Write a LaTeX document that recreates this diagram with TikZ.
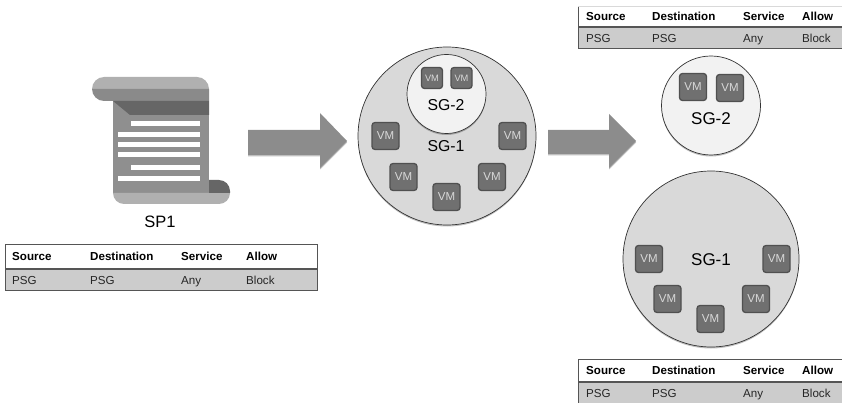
\documentclass[tikz,border=0pt]{standalone}
\usepackage{fontspec}
\setmainfont{Liberation Sans}
\usetikzlibrary{shadows}

\definecolor{sgfill}{HTML}{D9D9D9}
\definecolor{sginner}{HTML}{F2F2F2}
\definecolor{vmfill}{HTML}{707070}
\definecolor{vmedge}{HTML}{505050}
\definecolor{vmtext}{HTML}{D8D8D8}
\definecolor{rowfill}{HTML}{CCCCCC}
\definecolor{rule}{HTML}{555555}
\definecolor{arrowfill}{HTML}{8C8C8C}

\tikzset{
    softshadow/.style={drop shadow={shadow xshift=0pt, shadow yshift=-1.5pt, opacity=0.25, fill=black}},
    sgcircle/.style={circle, draw=black!80, line width=0.7pt, inner sep=0pt, minimum size=#1, softshadow},
    vmbox/.style={rectangle, rounded corners=3pt, draw=vmedge, line width=1.3pt, fill=vmfill, text=vmtext, inner sep=0pt, minimum size=#1},
    sglabel/.style={inner sep=0pt, font=\fontsize{#1}{#1}\selectfont},
    head/.style={anchor=base west, inner sep=0pt, font=\fontsize{11.6}{12}\selectfont\bfseries},
    cell/.style={anchor=base west, inner sep=0pt, text=black!85, font=\fontsize{11.6}{12}\selectfont},
    blockarrow/.style={fill=arrowfill, softshadow},
}
\newcommand{\vmlarge}[3]{\node[vmbox=27pt, font=\fontsize{11.5}{12}\selectfont] (#1) at (#2,#3) {VM};}
\newcommand{\vmsmall}[3]{\node[vmbox=21pt, font=\fontsize{9.3}{10}\selectfont] (#1) at (#2,#3) {VM};}

\begin{document}
\begin{tikzpicture}[x=1pt, y=-1pt]
    \useasboundingbox (0,0) rectangle (842,403);

    % scroll
    \fill[black!44] (113,101) rectangle (209,193);
    \fill[black!31] (113,193) [rounded corners=11pt] -- (113,204) -- (230,204) [sharp corners] -- (230,193) -- cycle;
    \fill[black!31] (92,89) [rounded corners=12pt] -- (92,77) -- (209,77) [sharp corners] -- (209,89) -- cycle;
    \fill[black!46] (92,89) [rounded corners=12pt] -- (92,101) [sharp corners] -- (209,101) -- (209,89) -- cycle;
    \fill[black!60] (113,101) -- (209,101) -- (209,115) -- (130,115) -- cycle;
    \fill[black!60] (209,193) -- (209,180) [rounded corners=11pt] -- (230,180) [sharp corners] -- (230,193) -- cycle;
    \foreach \ytop/\xleft in {121/131, 132/118, 142/118, 152/118, 165/131, 176/118} {
        \fill[white] (\xleft,\ytop) rectangle (200,\ytop+5);
    }
    \node[sglabel=16.5] (sp1) at (160,222) {SP1};

    % rule table under the scroll
    \fill[rowfill] (5,269) rectangle (317,290);
    \draw[rule, line width=1pt] (5,244) rectangle (317,290);
    \draw[rule, line width=1.2pt] (5,269) -- (317,269);
    \node[head] (srcA) at (12,260) {Source};
    \node[head] (dstA) at (90,260) {Destination};
    \node[head] (svcA) at (181,260) {Service};
    \node[head] (allA) at (246,260) {Allow};
    \node[cell] (srcrowA) at (12,284) {PSG};
    \node[cell] (dstrowA) at (90,284) {PSG};
    \node[cell] (svcrowA) at (181,284) {Any};
    \node[cell] (allrowA) at (246,284) {Block};

    % big arrows
    \path[blockarrow] (248,130) -- (320,130) -- (320,113) -- (347,141) -- (320,168) -- (320,155) -- (248,155) -- cycle;
    \path[blockarrow] (548,130) -- (609,130) -- (609,114) -- (636,141) -- (609,168) -- (609,154) -- (548,154) -- cycle;

    % middle group
    \node[sgcircle=178pt, fill=sgfill] (sgone) at (447,136) {};
    \node[sgcircle=79pt, fill=sginner] (sgtwo) at (446.5,94) {};
    \node[sglabel=15.8] (sgtwolabel) at (446,105) {SG-2};
    \node[sglabel=15.8] (sgonelabel) at (446,146) {SG-1};
    \vmsmall{vma}{432}{78}
    \vmsmall{vmb}{461.5}{78}
    \vmlarge{vmc}{385.5}{136}
    \vmlarge{vmd}{512.5}{136}
    \vmlarge{vme}{403.5}{177}
    \vmlarge{vmf}{492}{177}
    \vmlarge{vmg}{446.5}{197}

    % right groups
    \node[sgcircle=99pt, fill=sginner] (sgtwor) at (711,105.5) {};
    \node[sglabel=17] (sgtworlabel) at (711,119) {SG-2};
    \vmlarge{vmh}{693}{87}
    \vmlarge{vmi}{730}{88}
    \node[sgcircle=176pt, fill=sgfill] (sgoner) at (711,259) {};
    \node[sglabel=17] (sgonerlabel) at (711,260) {SG-1};
    \vmlarge{vmj}{649}{259}
    \vmlarge{vmk}{776.5}{259}
    \vmlarge{vml}{667.5}{299}
    \vmlarge{vmm}{756}{299}
    \vmlarge{vmn}{710.5}{319}

    % rule table at the top
    \fill[rowfill] (578,27) rectangle (842,49);
    \draw[rule, line width=1pt] (842,49) -- (578,49) -- (578,6);
    \draw[black!15, line width=0.6pt] (578,6) -- (842,6);
    \draw[rule, line width=1.2pt] (578,27) -- (842,27);
    \node[head] (srcB) at (586,21) {Source};
    \node[head] (dstB) at (652,21) {Destination};
    \node[head] (svcB) at (743,21) {Service};
    \node[head] (allB) at (802,21) {Allow};
    \node[cell] (srcrowB) at (586,43) {PSG};
    \node[cell] (dstrowB) at (652,43) {PSG};
    \node[cell] (svcrowB) at (743,43) {Any};
    \node[cell] (allrowB) at (802,43) {Block};

    % rule table at the bottom
    \fill[rowfill] (578,382) rectangle (842,403);
    \draw[rule, line width=1pt] (842,359) -- (578,359) -- (578,403);
    \draw[rule, line width=1.2pt] (578,382) -- (842,382);
    \node[head] (srcC) at (586,374) {Source};
    \node[head] (dstC) at (652,374) {Destination};
    \node[head] (svcC) at (743,374) {Service};
    \node[head] (allC) at (802,374) {Allow};
    \node[cell] (srcrowC) at (586,397) {PSG};
    \node[cell] (dstrowC) at (652,397) {PSG};
    \node[cell] (svcrowC) at (743,397) {Any};
    \node[cell] (allrowC) at (802,397) {Block};
\end{tikzpicture}
\end{document}
